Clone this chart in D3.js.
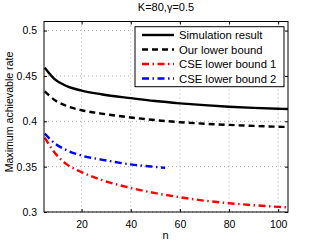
<!DOCTYPE html>
<html lang="en">
  <head>
    <meta charset="utf-8">
    <style>
     body { margin: 0; background: #fff; }
     text { font-family: "Liberation Sans", Arial, sans-serif; fill: #000; }
    </style>
  </head>
  <body>
    <div id="plot"></div>
  </body>
  <script src="https://d3js.org/d3.v7.min.js"></script>
  <script>
   // values
   var n_sim = [5, 9, 14, 20, 28, 40, 50, 60, 70, 80, 90, 100, 104];
   var sim_result = [0.459, 0.4465, 0.4387, 0.4338, 0.4298, 0.4255, 0.4223, 0.4198, 0.4178, 0.4161, 0.4148, 0.4138, 0.4135];
   var our_bound = [0.433, 0.4235, 0.4168, 0.4122, 0.4085, 0.4042, 0.4013, 0.3990, 0.3973, 0.3960, 0.3949, 0.3940, 0.3937];
   var cse1_bound = [0.382, 0.3655, 0.3525, 0.3440, 0.3355, 0.3265, 0.3208, 0.3163, 0.3125, 0.3097, 0.3075, 0.3057, 0.3051];
   var n_cse2 = [5, 9, 14, 20, 28, 40, 50, 54];
   var cse2_bound = [0.3865, 0.3758, 0.3680, 0.3622, 0.3578, 0.3525, 0.3497, 0.3487];
   var x_ticks = [20, 40, 60, 80, 100];
   var y_ticks = [0.3, 0.35, 0.4, 0.45, 0.5];
   var legend_names = ["Simulation result", "Our lower bound", "CSE lower bound 1", "CSE lower bound 2"];

   // note: "top" is window.top, so use other names for the box edges
   var width = 319, height = 243,
       ax_left = 44, ax_right = 288, ax_top = 21.5, ax_bottom = 212;

   var svg = d3.select("#plot").append("svg")
               .attr("width", width)
               .attr("height", height);

   var xscale = d3.scaleLinear().domain([4.7, 104]).range([ax_left, ax_right]);
   var yscale = d3.scaleLinear().domain([0.3, 0.51]).range([ax_bottom, ax_top]);

   // dotted grid
   var grid = svg.append("g");
   x_ticks.forEach(function (t) {
     grid.append("line")
         .attr("x1", xscale(t)).attr("x2", xscale(t))
         .attr("y1", ax_top).attr("y2", ax_bottom)
         .attr("stroke", "#a8a8a8").attr("stroke-width", 1)
         .attr("stroke-dasharray", "1,3");
   });
   y_ticks.forEach(function (t) {
     grid.append("line")
         .attr("x1", ax_left).attr("x2", ax_right)
         .attr("y1", yscale(t)).attr("y2", yscale(t))
         .attr("stroke", "#a8a8a8").attr("stroke-width", 1)
         .attr("stroke-dasharray", "1,3");
   });

   var line = d3.line()
                .x(function (d) { return xscale(d[0]); })
                .y(function (d) { return yscale(d[1]); })
                .curve(d3.curveMonotoneX);

   var zip = function (xs, ys) { return xs.map(function (x, i) { return [x, ys[i]]; }); };

   var series = [
     {data: zip(n_sim, sim_result), color: "#000", dash: null},
     {data: zip(n_sim, our_bound), color: "#000", dash: "6,4"},
     {data: zip(n_sim, cse1_bound), color: "#f00", dash: "7,3.5,1.5,3.5"},
     {data: zip(n_cse2, cse2_bound), color: "#00f", dash: "7,3.5,1.5,3.5"}
   ];

   svg.append("clipPath").attr("id", "clip")
      .append("rect")
      .attr("x", ax_left).attr("y", ax_top)
      .attr("width", ax_right - ax_left).attr("height", ax_bottom - ax_top);

   series.forEach(function (s) {
     svg.append("path")
        .attr("clip-path", "url(#clip)")
        .attr("d", line(s.data))
        .attr("fill", "none")
        .attr("stroke", s.color)
        .attr("stroke-width", 2.4)
        .attr("stroke-dasharray", s.dash);
   });

   // axes box with inward ticks
   var xaxis = d3.axisBottom(xscale).tickValues(x_ticks).tickSizeInner(-3).tickSizeOuter(0).tickPadding(9);
   var yaxis = d3.axisLeft(yscale).tickValues(y_ticks).tickSizeInner(-3).tickSizeOuter(0).tickPadding(7)
                 .tickFormat(function (d) { return String(+d.toFixed(2)); });

   var gx = svg.append("g").attr("transform", "translate(0," + ax_bottom + ")").call(xaxis);
   var gy = svg.append("g").attr("transform", "translate(" + ax_left + ",0)").call(yaxis);
   var gx2 = svg.append("g").attr("transform", "translate(0," + ax_top + ")")
                .call(d3.axisTop(xscale).tickValues(x_ticks).tickSizeInner(-3).tickSizeOuter(0).tickFormat(""));
   var gy2 = svg.append("g").attr("transform", "translate(" + ax_right + ",0)")
                .call(d3.axisRight(yscale).tickValues(y_ticks).tickSizeInner(-3).tickSizeOuter(0).tickFormat(""));
   [gx, gy, gx2, gy2].forEach(function (g) {
     g.attr("font-family", null).attr("font-size", null);
     g.selectAll(".domain").remove();
     g.selectAll("line").attr("stroke", "#000");
     g.selectAll("text").style("font-size", "10.5px");
   });
   svg.append("rect")
      .attr("x", ax_left).attr("y", ax_top)
      .attr("width", ax_right - ax_left).attr("height", ax_bottom - ax_top)
      .attr("fill", "none").attr("stroke", "#000").attr("stroke-width", 1);

   // labels
   svg.append("text")
      .attr("x", (ax_left + ax_right) / 2).attr("y", 11)
      .attr("text-anchor", "middle")
      .style("font-size", "11px")
      .text("K=80,γ=0.5");
   svg.append("text")
      .attr("x", 165.5).attr("y", 239)
      .attr("text-anchor", "middle")
      .style("font-size", "11px")
      .text("n");
   svg.append("text")
      .attr("transform", "translate(12.5,112) rotate(-90)")
      .attr("text-anchor", "middle")
      .style("font-size", "10.6px")
      .text("Maximum achievable rate");

   // legend
   var legend = svg.append("g");
   legend.append("rect")
         .attr("x", 135).attr("y", 26.7)
         .attr("width", 149).attr("height", 60)
         .attr("fill", "#fff").attr("stroke", "#000").attr("stroke-width", 1);
   legend_names.forEach(function (name, i) {
     var y = 35 + i * 14.5;
     legend.append("line")
           .attr("x1", 142).attr("x2", 174)
           .attr("y1", y).attr("y2", y)
           .attr("stroke", series[i].color)
           .attr("stroke-width", 2.4)
           .attr("stroke-dasharray", series[i].dash);
     legend.append("text")
           .attr("x", 179).attr("y", y + 4)
           .style("font-size", "11.3px")
           .text(name);
   });
  </script>
</html>
